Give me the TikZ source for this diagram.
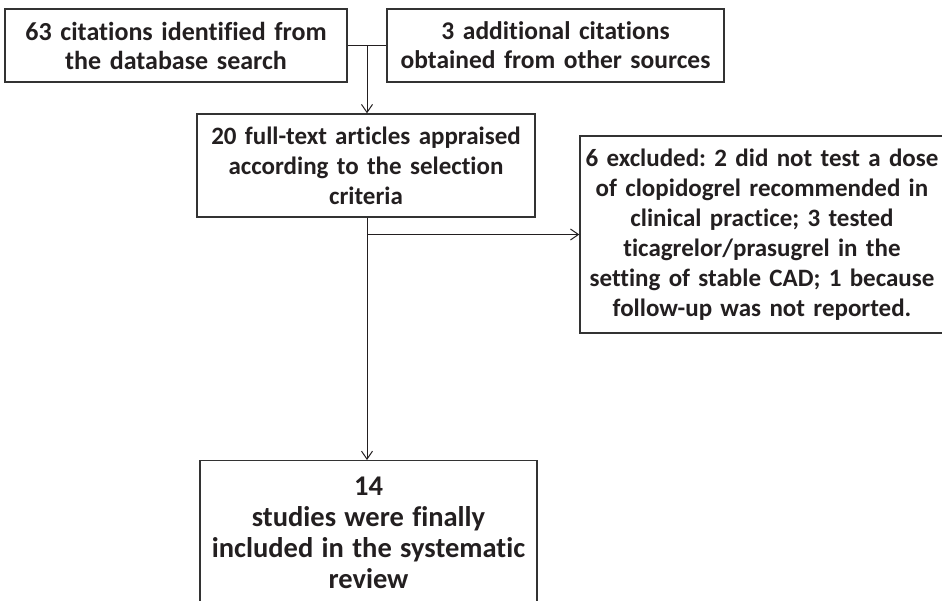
\documentclass[tikz,border=0pt]{standalone}
\usepackage{fontspec}
\setmainfont{Carlito}[Ligatures={NoCommon}]
\usetikzlibrary{arrows.meta}
\definecolor{ink}{HTML}{231F20}
\definecolor{edge}{HTML}{333333}
\tikzset{
  box/.style={draw=edge, line width=1.4pt, text=ink, align=center, inner sep=0pt,
    font=\frenchspacing\bfseries\fontsize{25}{30}\selectfont},
  link/.style={draw=ink, line width=1pt},
  arr/.style={link, -{Straight Barb[length=8pt,width=11pt,line width=1pt]}}
}
\begin{document}
\begin{tikzpicture}[x=1pt,y=-1pt]
\clip (0,0) rectangle (942,601);
\fill[white] (0,0) rectangle (942,601);
\node[box, font=\frenchspacing\bfseries\fontsize{26}{29}\selectfont, minimum width=342pt, minimum height=73pt, text width=336pt] (A) at (176,45.5)
  {63 citations identified from\\the database search};
\node[box, font=\frenchspacing\bfseries\fontsize{25.5}{29}\selectfont, minimum width=337pt, minimum height=73pt, text width=332pt] (B) at (555.5,45.5)
  {3 additional citations\\obtained from other sources};
\node[box, minimum width=338pt, minimum height=103pt, text width=330pt] (C) at (366,165.5)
  {20 full-text articles appraised\\according to the selection\\criteria};
\node[box, minimum width=364pt, minimum height=197pt, text width=360pt] (D) at (762,234.5)
  {6 excluded: 2 did not test a dose\\of clopidogrel recommended in\\clinical practice; 3 tested\\ticagrelor/prasugrel in the\\setting of stable CAD; 1 because\\follow-up was not reported.};
\node[box, minimum width=337pt, anchor=north, inner ysep=0pt, text width=335pt] (E) at (368.5,460)
  {\parbox[t][190pt][t]{335pt}{\centering\fontsize{28.5}{31}\selectfont\rule{0pt}{35pt}14\\studies were finally\\included in the systematic\\review}};
\coordinate (j1) at (367,45.5);
\coordinate (j2) at (367,234.5);
\draw[link] (A.east) -- (B.west);
\draw[arr] (j1) -- (j1 |- C.north);
\draw[arr] (C.south -| j1) -- (j1 |- E.north);
\draw[arr] (j2) -- (D.west);
\end{tikzpicture}
\end{document}
